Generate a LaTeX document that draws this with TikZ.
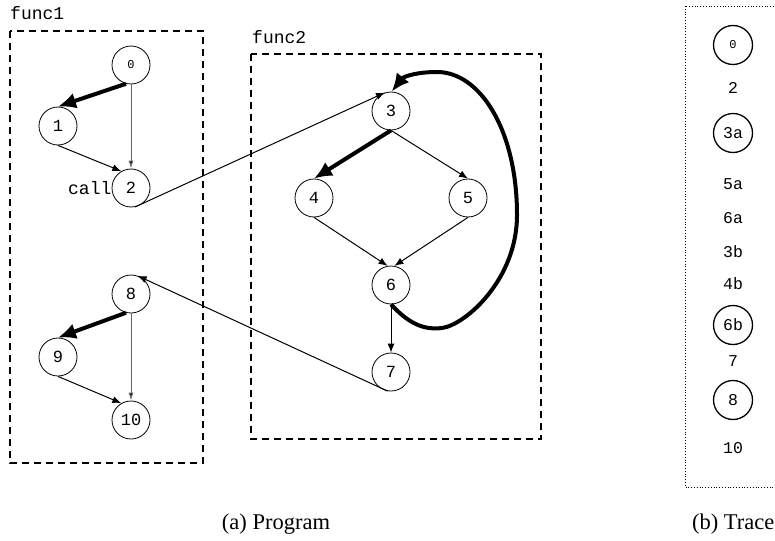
\documentclass[tikz,border=0pt]{standalone}
\usepackage{fontspec}
\setmainfont{Liberation Serif}
\setmonofont{Liberation Mono}
\usetikzlibrary{arrows.meta}
\tikzset{
  vtx/.style={circle, draw, line width=0.8pt, minimum size=38pt, inner sep=0pt, font=\fontsize{17}{17}\selectfont\ttfamily},
  smallvtx/.style={vtx, font=\fontsize{12}{12}\selectfont\ttfamily},
  tvtx/.style={circle, draw, line width=1.3pt, minimum size=39pt, inner sep=0pt, font=\fontsize{16.5}{16.5}\selectfont\ttfamily},
  ttxt/.style={inner sep=0pt, font=\fontsize{16.5}{16.5}\selectfont\ttfamily},
  lbl/.style={inner sep=0pt, font=\fontsize{18}{18}\selectfont\ttfamily},
  fbox/.style={draw, line width=1.5pt, dash pattern=on 7pt off 5pt},
  thinarr/.style={line width=1pt, -{Latex[length=9pt,width=7pt]}},
  grayarr/.style={line width=1pt, draw=black!60, -{Latex[length=8pt,width=5pt,fill=black]}},
  heavy/.style={line width=4pt, -{Latex[length=18pt,width=16pt]}},
  captxt/.style={inner sep=0pt, font=\fontsize{22.5}{22.5}\selectfont}
}
\begin{document}
\begin{tikzpicture}[x=1pt,y=-1pt]
\useasboundingbox (0,0) rectangle (775,540);
% boxes
\draw[fbox] (10,31) rectangle (203,463);
\node[lbl, anchor=base west] (f1) at (10,20) {func1};
\draw[fbox] (251,54) rectangle (541,439);
\node[lbl, anchor=base west] (f2) at (252,44) {func2};
\draw[line width=0.8pt, dotted] (685,6) rectangle (800,487);
% func1 nodes
\node[smallvtx] (n0) at (131,65) {0};
\node[vtx] (n1) at (58,126) {1};
\node[vtx] (n2) at (131,188) {2};
\node[lbl, anchor=east] (call) at (n2.west) {call};
\node[vtx] (n8) at (131,294) {8};
\node[vtx] (n9) at (58,357) {9};
\node[vtx] (n10) at (131,420) {10};
% func2 nodes
\node[vtx] (n3) at (391,111) {3};
\node[vtx] (n4) at (314,198) {4};
\node[vtx] (n5) at (468,198) {5};
\node[vtx] (n6) at (391,285) {6};
\node[vtx] (n7) at (391,372) {7};
% edges func1
\draw[heavy] (n0.-105) -- (n1.north);
\draw[grayarr] (n0.south) -- (n2.north);
\draw[thinarr] (n1.south) -- (n2.120);
\draw[heavy] (n8.-105) -- (n9.north);
\draw[grayarr] (n8.south) -- (n10.north);
\draw[thinarr] (n9.south) -- (n10.120);
% edges func2
\draw[heavy] (n3.south) -- (n4.north);
\draw[thinarr] (n3.south) -- (n5.north);
\draw[thinarr] (n4.south) -- (n6.100);
\draw[thinarr] (n5.south) -- (n6.80);
\draw[thinarr] (n6.south) -- (n7.north);
\draw[heavy] (n6.south) .. controls (410,325) and (425,330) .. (442,328)
  .. controls (465,325) and (517,280) .. (517,215)
  .. controls (517,130) and (480,72) .. (437,72)
  .. controls (418,72) and (404,76) .. (n3.88);
% calls
\draw[thinarr] (n2.-78) -- (n3.108);
\draw[thinarr] (n7.-100) -- (n8.70);
% trace
\node[tvtx, font=\fontsize{12}{12}\selectfont\ttfamily] (t0) at (733,45) {0};
\node[ttxt] (t2) at (733,88) {2};
\node[tvtx] (t3a) at (733,133) {3a};
\node[ttxt] (t5a) at (733,184) {5a};
\node[ttxt] (t6a) at (733,218) {6a};
\node[ttxt] (t3b) at (733,252) {3b};
\node[ttxt] (t4b) at (733,284) {4b};
\node[tvtx] (t6b) at (733,325) {6b};
\node[ttxt] (t7) at (733,361) {7};
\node[tvtx] (t8) at (733,400) {8};
\node[ttxt] (t10) at (733,448) {10};
% captions
\node[captxt] (capa) at (276,524) {(a) Program};
\node[captxt, anchor=east] (capb) at (774.5,524) {(b) Trace};
\end{tikzpicture}
\end{document}
